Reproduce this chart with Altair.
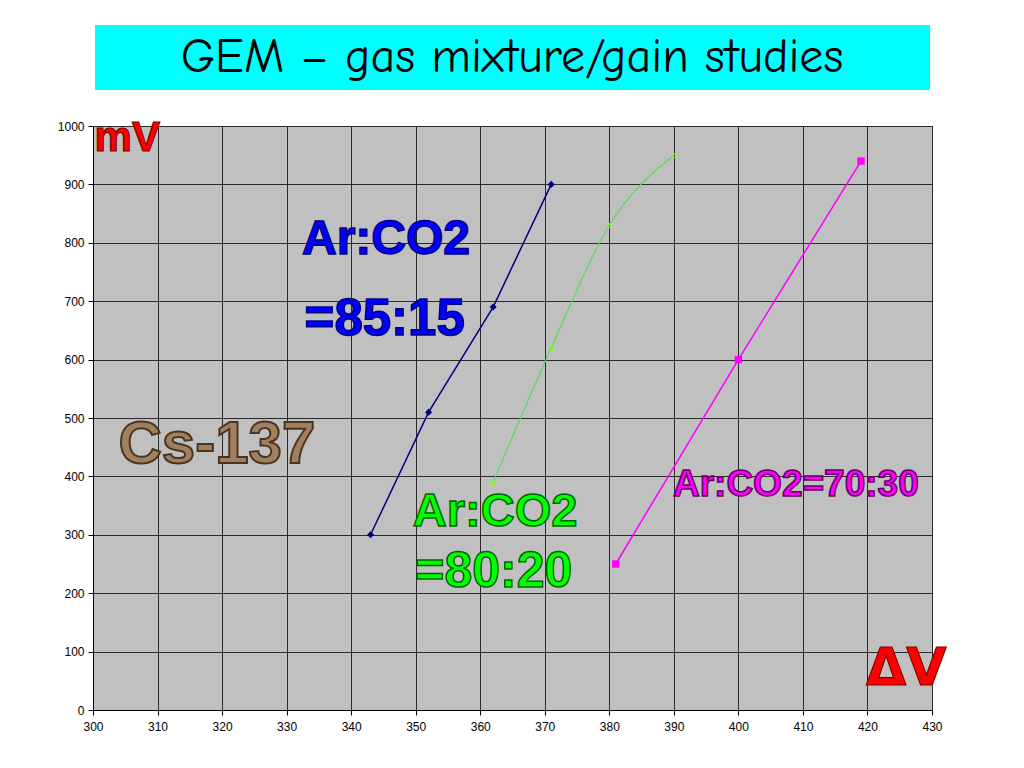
import altair as alt
import pandas as pd

# Data
x_85_15 = [343, 352, 362, 371]
y_85_15 = [300, 510, 690, 900]
x_80_20 = [362, 371, 380, 390]
y_80_20 = [390, 620, 830, 950]
x_70_30 = [381, 400, 419]
y_70_30 = [250, 600, 940]

x_ticks = list(range(300, 431, 10))
y_ticks = list(range(0, 1001, 100))

W, H = 839, 584

d1 = pd.DataFrame({"dv": x_85_15, "mv": y_85_15})
d2 = pd.DataFrame({"dv": x_80_20, "mv": y_80_20})
d3 = pd.DataFrame({"dv": x_70_30, "mv": y_70_30})

xs = alt.Scale(domain=[300, 430], nice=False, zero=False)
ys = alt.Scale(domain=[0, 1000], nice=False)

xax = alt.Axis(values=x_ticks, title=None, grid=True, gridColor="#2a2a2a", gridWidth=1,
               domainColor="#000000", tickColor="#000000", tickSize=5, format="d",
               labelFlush=False, labelOverlap=False,
               labelFont="Liberation Sans", labelFontSize=12, labelColor="#000000", labelPadding=6)
yax = alt.Axis(values=y_ticks, title=None, grid=True, gridColor="#2a2a2a", gridWidth=1,
               domainColor="#000000", tickColor="#000000", tickSize=5, format="d",
               labelFlush=False, labelOverlap=False,
               labelFont="Liberation Sans", labelFontSize=12, labelColor="#000000", labelPadding=4)

base_x = alt.X("dv:Q", scale=xs, axis=xax)
base_y = alt.Y("mv:Q", scale=ys, axis=yax)

l1 = alt.Chart(d1).mark_line(color="#000080", strokeWidth=1.5).encode(x=base_x, y=base_y)
p1 = alt.Chart(d1).mark_point(shape="diamond", filled=True, color="#000080", size=50, opacity=1).encode(x="dv:Q", y="mv:Q")
l2 = alt.Chart(d2).mark_line(color="#55DD55", strokeWidth=1.2, interpolate="monotone").encode(x="dv:Q", y="mv:Q")
p2 = alt.Chart(d2).mark_point(shape="triangle-up", filled=False, color="#88FF00", size=25, strokeWidth=1, opacity=1).encode(x="dv:Q", y="mv:Q")
l3 = alt.Chart(d3).mark_line(color="#FF00FF", strokeWidth=1.5).encode(x="dv:Q", y="mv:Q")
p3 = alt.Chart(d3).mark_point(shape="square", filled=True, color="#FF00FF", size=55, opacity=1).encode(x="dv:Q", y="mv:Q")

# Title box
title_box = alt.Chart(pd.DataFrame({"a": [0]})).mark_rect(color="#00FFFF").encode(
    x=alt.value(2), x2=alt.value(837), y=alt.value(-101), y2=alt.value(-36))
title_txt = alt.Chart(pd.DataFrame({"t": ["GEM – gas mixture/gain studies"]})).mark_text(
    font="Comic Sans MS, Comic Neue, DejaVu Sans", fontSize=48, color="#000000",
    align="center", baseline="middle").encode(text="t:N", x=alt.value(419), y=alt.value(-68))

bold = "Liberation Sans, Arial, sans-serif"

def label(text, x, y, size, fill, stroke, sw=1.5, font=bold):
    return alt.Chart(pd.DataFrame({"t": [text], "dv": [x], "mv": [y]})).mark_text(
        font=font, fontWeight="bold", fontSize=size, color=fill, stroke=stroke,
        strokeWidth=sw, align="center", baseline="middle").encode(
        x=alt.X("dv:Q", scale=xs), y=alt.Y("mv:Q", scale=ys), text="t:N")

ann = [
    label("mV", 305.3, 979, 42, "#FF0000", "#800000", 1.2),
    label("Ar:CO2", 345.4, 805, 48, "#0000FF", "#000080"),
    label("=85:15", 345.2, 668, 51, "#0000FF", "#000080"),
    label("Cs-137", 319.2, 454, 60, "#A08060", "#4A3520", 2),
    label("Ar:CO2", 362.3, 339, 47, "#00FF00", "#006600"),
    label("=80:20", 362.1, 236, 50, "#00FF00", "#006600"),
    label("Ar:CO2=70:30", 408.9, 385, 37, "#FF00FF", "#660066"),
    label("ΔV", 426, 70, 52, "#FF0000", "#800000", 1.2, font="DejaVu Sans"),
]

chart = alt.layer(title_box, title_txt, l1, p1, l2, p2, l3, p3, *ann).properties(
    width=W, height=H, padding={"left": 85, "top": 118, "right": 60, "bottom": 40},
    autosize=alt.AutoSizeParams(type="none"), background="#FFFFFF"
).configure_view(fill="#C0C0C0", stroke="#000000", strokeWidth=1)

chart.save("out.html", embed_options={"renderer": "svg", "actions": False})
